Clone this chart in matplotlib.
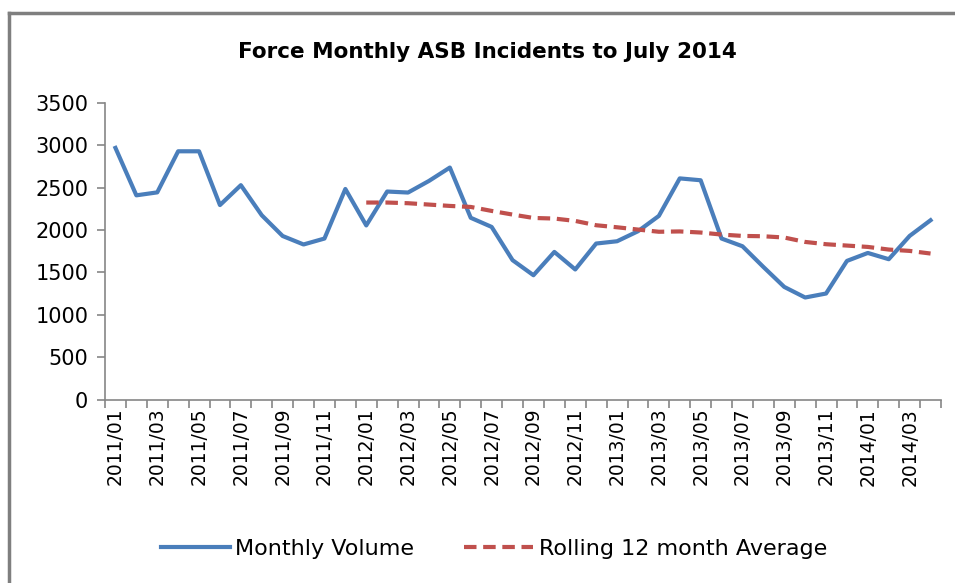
import numpy as np
import matplotlib
matplotlib.use("Agg")
import matplotlib.pyplot as plt
from matplotlib.lines import Line2D

# Months shown on the category axis (2011/01 .. 2014/04)
months = [f"{y}/{m:02d}" for y in range(2011, 2015) for m in range(1, 13)][:40]

# Monthly ASB incident volume
monthly_volume = [
    2970, 2410, 2445, 2930, 2930, 2295, 2530, 2175, 1930, 1830,
    1900, 2485, 2055, 2455, 2443, 2580, 2738, 2145, 2037, 1645,
    1467, 1742, 1535, 1841, 1868, 1986, 2167, 2610, 2588, 1900,
    1809, 1565, 1329, 1204, 1251, 1636, 1730, 1656, 1931, 2116,
]

# Rolling 12 month average, starts at 2012/01
rolling_avg = [
    2325, 2325, 2317, 2301, 2285, 2273, 2226, 2183, 2143, 2136,
    2108, 2057, 2033, 2006, 1980, 1984, 1971, 1947, 1931, 1927,
    1912, 1860, 1833, 1817, 1801, 1770, 1754, 1723,
]

fig = plt.figure(figsize=(9.55, 5.83), dpi=100)
ax = fig.add_axes([105 / 955, 1 - 399.5 / 583, 836 / 955, 296.5 / 583])

x = np.arange(len(months))
ax.plot(x, monthly_volume, color="#4A7EBB", linewidth=3.0,
        solid_joinstyle="round", label="Monthly Volume")
x_roll = x[len(x) - len(rolling_avg):]
ax.plot(x_roll, rolling_avg, color="#C0504D", linewidth=3.0,
        linestyle=(0, (3.0, 1.6)), label="Rolling 12 month Average")

ax.set_xlim(-0.5, len(months) - 0.5)
ax.set_ylim(0, 3500)
ax.set_yticks(np.arange(0, 3501, 500))

# tick marks on category boundaries, labels on every other month
ax.set_xticks(np.arange(-0.5, len(months), 1))
ax.set_xticklabels([])
ax.set_xticks(x[::2], minor=True)
ax.set_xticklabels(months[::2], minor=True, rotation=90)
ax.tick_params(axis="x", which="major", length=6, width=1.2, color="#868686")
ax.tick_params(axis="x", which="minor", length=0, pad=6, labelsize=13.5)
ax.tick_params(axis="y", length=6, width=1.2, color="#868686", labelsize=15, pad=6)

for side in ["top", "right"]:
    ax.spines[side].set_visible(False)
for side in ["left", "bottom"]:
    ax.spines[side].set_color("#868686")
    ax.spines[side].set_linewidth(1.2)

fig.text(487 / 955, 1 - 52 / 583, "Force Monthly ASB Incidents to July 2014",
         ha="center", va="center", fontsize=15.5, fontweight="bold")

fig.legend(loc="center", bbox_to_anchor=(494 / 955, 1 - 549 / 583), ncol=2,
           frameon=False, handlelength=3.1, columnspacing=2.25, handletextpad=0.25,
           prop={"size": 16})

# outer chart border (left and top edges visible)
fig.add_artist(Line2D([8.5 / 955, 8.5 / 955], [0, 1 - 13 / 583],
                      transform=fig.transFigure, color="#7F7F7F", linewidth=2.5))
fig.add_artist(Line2D([8.5 / 955, 1], [1 - 13 / 583, 1 - 13 / 583],
                      transform=fig.transFigure, color="#7F7F7F", linewidth=2.5))

fig.savefig("out.png", dpi=100)
